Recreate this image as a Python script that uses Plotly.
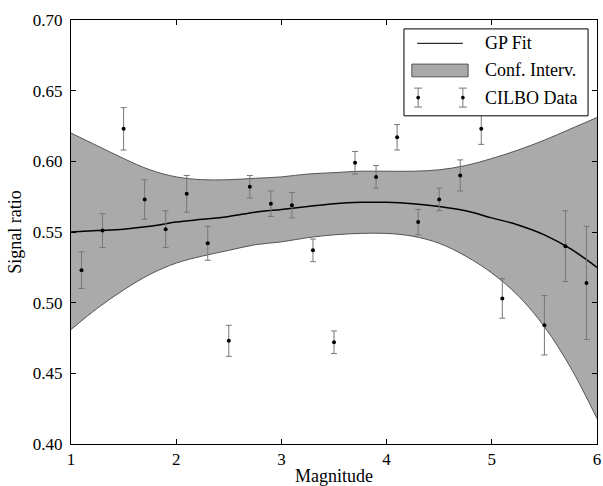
import plotly.graph_objects as go

# ---- data ----
mag = [1.1, 1.3, 1.5, 1.7, 1.9, 2.1, 2.3, 2.5, 2.7, 2.9, 3.1, 3.3, 3.5,
       3.7, 3.9, 4.1, 4.3, 4.5, 4.7, 4.9, 5.1, 5.5, 5.7, 5.9]
ratio = [0.523, 0.551, 0.623, 0.573, 0.552, 0.577, 0.542, 0.473, 0.582, 0.570,
         0.569, 0.537, 0.472, 0.599, 0.589, 0.617, 0.557, 0.573, 0.590, 0.623,
         0.503, 0.484, 0.540, 0.514]
ratio_err = [0.013, 0.012, 0.015, 0.014, 0.013, 0.013, 0.012, 0.011, 0.008, 0.009,
             0.009, 0.008, 0.008, 0.008, 0.008, 0.009, 0.009, 0.008, 0.011, 0.011,
             0.014, 0.021, 0.025, 0.040]

grid_x = [1.0, 1.25, 1.5, 1.75, 2.0, 2.25, 2.5, 2.75, 3.0, 3.25, 3.5,
          3.75, 4.0, 4.25, 4.5, 4.75, 5.0, 5.25, 5.5, 5.75, 6.0]
gp_mean = [0.550, 0.551, 0.552, 0.554, 0.557, 0.559, 0.561, 0.564, 0.566, 0.568, 0.570,
           0.571, 0.571, 0.570, 0.568, 0.565, 0.560, 0.555, 0.548, 0.538, 0.525]
gp_upper = [0.620, 0.611, 0.602, 0.594, 0.589, 0.587, 0.587, 0.588, 0.589, 0.591, 0.592,
            0.593, 0.593, 0.593, 0.594, 0.597, 0.602, 0.608, 0.615, 0.623, 0.631]
gp_lower = [0.481, 0.496, 0.509, 0.520, 0.528, 0.533, 0.537, 0.541, 0.543, 0.546, 0.548,
            0.549, 0.549, 0.547, 0.542, 0.533, 0.521, 0.505, 0.483, 0.454, 0.418]

legend_labels = ["GP Fit", "Conf. Interv.", "CILBO Data"]
x_ticks = [1, 2, 3, 4, 5, 6]
y_ticks = [0.40, 0.45, 0.50, 0.55, 0.60, 0.65, 0.70]

FONT = "Liberation Serif, Times New Roman, serif"

fig = go.Figure()
fig.add_trace(go.Scatter(x=grid_x, y=gp_lower, mode="lines", line=dict(color="#555555", width=1, shape="spline"),
                         showlegend=False, hoverinfo="skip"))
fig.add_trace(go.Scatter(x=grid_x, y=gp_upper, mode="lines", line=dict(color="#555555", width=1, shape="spline"),
                         fill="tonexty", fillcolor="#aaaaaa", name=legend_labels[1], showlegend=False))
fig.add_trace(go.Scatter(x=grid_x, y=gp_mean, mode="lines", line=dict(color="black", width=1.5, shape="spline"),
                         name=legend_labels[0], showlegend=False))
fig.add_trace(go.Scatter(x=mag, y=ratio, mode="markers", name=legend_labels[2], showlegend=False,
                         marker=dict(color="black", size=4),
                         error_y=dict(type="data", array=ratio_err, color="#777777", thickness=1, width=3)))

# ---- legend drawn in paper coordinates ----
shapes = [
    dict(type="rect", xref="paper", yref="paper", x0=0.633, x1=0.983, y0=0.774, y1=0.979,
         line=dict(color="black", width=1), fillcolor="white", layer="above"),
    dict(type="line", xref="paper", yref="paper", x0=0.658, x1=0.745, y0=0.945, y1=0.945,
         line=dict(color="black", width=1), layer="above"),
    dict(type="rect", xref="paper", yref="paper", x0=0.648, x1=0.755, y0=0.866, y1=0.896,
         line=dict(color="#555555", width=1), fillcolor="#aaaaaa", layer="above"),
]
for gx in (0.660, 0.745):
    cy, hh, cw = 0.817, 0.0224, 0.0076
    shapes.append(dict(type="line", xref="paper", yref="paper", x0=gx, x1=gx, y0=cy - hh, y1=cy + hh,
                       line=dict(color="#777777", width=1), layer="above"))
    for yy in (cy - hh, cy + hh):
        shapes.append(dict(type="line", xref="paper", yref="paper", x0=gx - cw, x1=gx + cw, y0=yy, y1=yy,
                           line=dict(color="#777777", width=1), layer="above"))
    shapes.append(dict(type="circle", xref="paper", yref="paper", x0=gx - 0.0035, x1=gx + 0.0035,
                       y0=cy - 0.0045, y1=cy + 0.0045, line=dict(color="black", width=0),
                       fillcolor="black", layer="above"))

annotations = []
for lab, yy in zip(legend_labels, (0.945, 0.881, 0.817)):
    annotations.append(dict(xref="paper", yref="paper", x=0.783, y=yy, text=lab, showarrow=False,
                            xanchor="left", yanchor="middle", font=dict(family=FONT, size=18, color="black")))

fig.update_layout(
    width=603, height=486,
    margin=dict(l=71, r=6, t=20, b=42, autoexpand=False),
    paper_bgcolor="white", plot_bgcolor="white",
    font=dict(family=FONT, size=17, color="black"),
    shapes=shapes, annotations=annotations,
    showlegend=False,
)
fig.update_xaxes(range=[1, 6], tickvals=x_ticks, ticks="inside", ticklen=5, tickcolor="black",
                 showline=True, linecolor="black", linewidth=1, mirror="ticks", showgrid=False, zeroline=False,
                 automargin=False, ticklabelstandoff=0,
                 title=dict(text="Magnitude", font=dict(family=FONT, size=18), standoff=0),
                 tickfont=dict(family=FONT, size=17, color="black"))
fig.update_yaxes(range=[0.40, 0.70], tickvals=y_ticks, tickformat=".2f", ticks="inside", ticklen=5,
                 tickcolor="black", showline=True, linecolor="black", linewidth=1, mirror="ticks",
                 showgrid=False, zeroline=False, ticklabelstandoff=4, automargin=False,
                 title=dict(text="Signal ratio", font=dict(family=FONT, size=18), standoff=6),
                 tickfont=dict(family=FONT, size=17, color="black"))

fig.write_html("out.html", config={"displayModeBar": False},
               post_script="document.body.style.margin='0';document.body.style.overflow='hidden';")
